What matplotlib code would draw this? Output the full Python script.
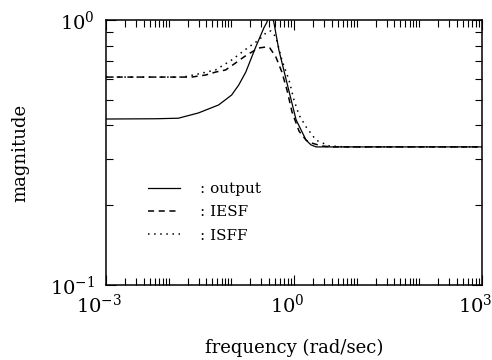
import matplotlib
matplotlib.use("Agg")
import matplotlib.pyplot as plt
from matplotlib.ticker import NullFormatter
from matplotlib.transforms import ScaledTranslation

plt.rcParams['font.family'] = ['DejaVu Serif']
plt.rcParams['mathtext.fontset'] = 'dejavuserif'

# output (solid)
freq_out = [0.001, 0.0063, 0.0143, 0.0299, 0.0627, 0.101, 0.131, 0.170, 0.245,
            0.330, 0.369, 0.420, 0.479, 0.574, 0.773, 1.08, 1.56, 1.86, 2.25, 1000]
mag_out = [0.423, 0.424, 0.426, 0.446, 0.478, 0.521, 0.568, 0.636, 0.791,
           0.933, 0.98, 1.10, 0.975, 0.770, 0.578, 0.420, 0.352, 0.338, 0.332, 0.332]

# IESF (dashed)
freq_iesf = [0.001, 0.0231, 0.0389, 0.0561, 0.0811, 0.1175, 0.158, 0.212, 0.274,
             0.356, 0.412, 0.514, 0.641, 0.773, 0.929, 1.202, 1.56, 1.945, 2.71,
             3.93, 1000]
mag_iesf = [0.609, 0.609, 0.620, 0.636, 0.648, 0.689, 0.725, 0.757, 0.784,
            0.791, 0.784, 0.725, 0.636, 0.544, 0.450, 0.381, 0.352, 0.343, 0.335,
            0.332, 0.332]

# ISFF (dotted)
freq_isff = [0.001, 0.0172, 0.0299, 0.0561, 0.101, 0.190, 0.274, 0.369, 0.428,
             0.514, 0.641, 0.832, 1.0, 1.202, 1.56, 2.25, 3.65, 6.34, 1000]
mag_isff = [0.609, 0.609, 0.626, 0.648, 0.706, 0.791, 0.840, 0.901, 0.909,
            0.863, 0.706, 0.594, 0.499, 0.438, 0.395, 0.352, 0.335, 0.332, 0.332]

labels = [': output', ': IESF', ': ISFF']
xmajor = [1e-3, 1e0, 1e3]

fig = plt.figure(figsize=(4.92, 3.6), dpi=100)
ax = fig.add_axes([106/492, 75/360, 376/492, 265/360])

ax.loglog(freq_out, mag_out, 'k-', lw=0.9, label=labels[0])
ax.loglog(freq_iesf, mag_iesf, 'k--', lw=1.1, dashes=(4, 3), label=labels[1])
ax.loglog(freq_isff, mag_isff, 'k:', lw=1.1, dashes=(1, 3), label=labels[2])

ax.set_xlim(1e-3, 1e3)
ax.set_ylim(1e-1, 1e0)
ax.set_xticks(xmajor)
xminor = [m * 10.0**e for e in range(-3, 3) for m in range(1, 10)]
xminor = [v for v in xminor if v not in xmajor]
ax.set_xticks(xminor, minor=True)
ax.set_yticks([m * 0.1 for m in range(2, 10)], minor=True)
ax.xaxis.set_minor_formatter(NullFormatter())
ax.yaxis.set_minor_formatter(NullFormatter())

ax.tick_params(which='both', direction='in', top=True, right=True, labelsize=14, width=0.8)
ax.tick_params(which='major', length=7)
ax.tick_params(which='minor', length=5)
ax.tick_params(axis='x', pad=6)
ax.tick_params(axis='y', pad=8)
for s in ax.spines.values():
    s.set_linewidth(1.1)

# tick labels sit a little left of their ticks in the original
shift = ScaledTranslation(-7/100, 0, fig.dpi_scale_trans)
for lab in ax.get_xticklabels():
    lab.set_transform(lab.get_transform() + shift)

ax.set_xlabel('frequency (rad/sec)', fontsize=13, labelpad=16)
ax.set_ylabel('magnitude', fontsize=13)
ax.yaxis.set_label_coords(-0.205, 0.5)

ax.legend(loc='upper left', bbox_to_anchor=(0.112, 0.388), frameon=False,
          borderpad=0, borderaxespad=0, fontsize=11, handlelength=2.1,
          handletextpad=1.3, labelspacing=0.6)

fig.savefig('out.png', dpi=100)
